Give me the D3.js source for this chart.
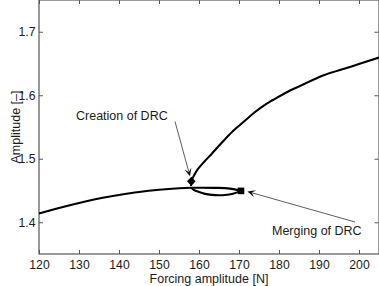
<!DOCTYPE html>
<meta charset="utf-8">
<script src="https://d3js.org/d3.v7.min.js"></script>
<style>
  body { margin: 0; background: #fff; }
  text { font-family: "Liberation Sans", Arial, Helvetica, sans-serif; font-size: 12.5px; fill: #1a1a1a; }
  .tick text { font-size: 12.2px; }
</style>
<div id="chart"></div>
<script>
// lower branch (main curve + upper edge of the loop)
var lowerF = [120, 125, 130, 135, 140, 145, 150, 155, 158, 160.25, 164, 167.75, 170.5];
var lowerA = [1.4138, 1.4224, 1.4303, 1.4374, 1.4429, 1.4476, 1.4511, 1.4535, 1.4543, 1.4544, 1.4542, 1.4530, 1.4494];

// lower edge of the DRC loop
var loopF = [158.0, 158.6, 159.5, 161.5, 164, 166.5, 168.5, 170.5];
var loopA = [1.4543, 1.4515, 1.4488, 1.4447, 1.4427, 1.4428, 1.4448, 1.4494];

// upper branch, starting at the creation point
var upperF = [158.02, 158.08, 158.75, 159.75, 161.25, 163.25, 165.5, 168.5, 171.25, 174.0, 176.75, 178.5, 182.75, 185.25, 191.0, 197.75, 205];
var upperA = [1.457, 1.4645, 1.4736, 1.4839, 1.4949, 1.5083, 1.5240, 1.5437, 1.5587, 1.5736, 1.5862, 1.5925, 1.6075, 1.6146, 1.6311, 1.6445, 1.6594];

// special points
var creation = [158.08, 1.4645];
var merging = [170.5, 1.4494];

var xTicks = [120, 130, 140, 150, 160, 170, 180, 190, 200];
var yTicks = [1.4, 1.5, 1.6, 1.7];

var W = 379, H = 286;
var margin = {top: 0, right: 0, bottom: 32, left: 39};

var x = d3.scaleLinear().domain([120, 205]).range([margin.left, W - margin.right]);
var y = d3.scaleLinear().domain([1.35, 1.75]).range([H - margin.bottom, margin.top]);

var svg = d3.select("#chart").append("svg")
  .attr("width", W)
  .attr("height", H);

// box + inward ticks
var axisCol = "#555";
svg.append("rect")
  .attr("x", x(120)).attr("y", y(1.75))
  .attr("width", x(205) - x(120)).attr("height", y(1.35) - y(1.75))
  .attr("fill", "none").attr("stroke", axisCol).attr("stroke-width", 1.2);

var gx = svg.append("g")
  .attr("transform", "translate(0," + y(1.35) + ")")
  .call(d3.axisBottom(x).tickValues(xTicks).tickSizeInner(-4).tickSizeOuter(0).tickPadding(6));
var gxTop = svg.append("g")
  .attr("transform", "translate(0," + y(1.75) + ")")
  .call(d3.axisTop(x).tickValues(xTicks).tickSizeInner(-4).tickSizeOuter(0).tickFormat(""));
var gy = svg.append("g")
  .attr("transform", "translate(" + x(120) + ",0)")
  .call(d3.axisLeft(y).tickValues(yTicks).tickSizeInner(-4).tickSizeOuter(0).tickPadding(3.5).tickFormat(d3.format(".1f")));
var gyR = svg.append("g")
  .attr("transform", "translate(" + (x(205) - 0.5) + ",0)")
  .call(d3.axisRight(y).tickValues(yTicks).tickSizeInner(-4).tickSizeOuter(0).tickFormat(""));

[gx, gxTop, gy, gyR].forEach(function(g) {
  g.select(".domain").remove();
  g.selectAll(".tick line").attr("stroke", axisCol);
  g.selectAll(".tick text").attr("font-size", null).attr("font-family", null);
});

// axis titles
svg.append("text")
  .attr("x", (x(120) + x(205)) / 2)
  .attr("y", 283)
  .attr("text-anchor", "middle")
  .text("Forcing amplitude [N]");

svg.append("text")
  .attr("transform", "translate(19.5," + ((y(1.35) + y(1.75)) / 2) + ") rotate(-90)")
  .attr("text-anchor", "middle")
  .text("Amplitude [\u2013]");

// curves
var line = d3.line()
  .x(function(d) { return x(d[0]); })
  .y(function(d) { return y(d[1]); })
  .curve(d3.curveCatmullRom);

function zip(a, b) { return a.map(function(v, i) { return [v, b[i]]; }); }

[zip(lowerF, lowerA), zip(loopF, loopA), zip(upperF, upperA)].forEach(function(pts) {
  svg.append("path")
    .attr("d", line(pts))
    .attr("fill", "none")
    .attr("stroke", "#000")
    .attr("stroke-width", 2.1)
    .attr("stroke-linejoin", "round");
});

// markers
var cx = x(creation[0]), cy = y(creation[1]);
svg.append("path")
  .attr("d", "M" + cx + "," + (cy - 4.6) + "L" + (cx + 4.3) + "," + cy + "L" + cx + "," + (cy + 4.6) + "L" + (cx - 4.3) + "," + cy + "Z")
  .attr("fill", "#000");
svg.append("rect")
  .attr("x", x(merging[0]) - 3.3).attr("y", y(merging[1]) - 3.3)
  .attr("width", 6.6).attr("height", 6.6)
  .attr("fill", "#000");

// annotations with arrows
function arrow(f1, a1, f2, a2) {
  var x1 = x(f1), y1 = y(a1), x2 = x(f2), y2 = y(a2);
  var dx = x2 - x1, dy = y2 - y1, len = Math.sqrt(dx * dx + dy * dy);
  var ux = dx / len, uy = dy / len, nx = -uy, ny = ux;
  var L = 8, Wd = 3.6;
  svg.append("line")
    .attr("x1", x1).attr("y1", y1)
    .attr("x2", x2 - ux * L * 0.6).attr("y2", y2 - uy * L * 0.6)
    .attr("stroke", "#333").attr("stroke-width", 0.8);
  var p = [
    [x2, y2],
    [x2 - ux * L + nx * Wd, y2 - uy * L + ny * Wd],
    [x2 - ux * L * 0.55, y2 - uy * L * 0.55],
    [x2 - ux * L - nx * Wd, y2 - uy * L - ny * Wd]
  ];
  svg.append("path")
    .attr("d", "M" + p.map(function(q) { return q.join(","); }).join("L") + "Z")
    .attr("fill", "#111");
}

arrow(154.0, 1.5587, 157.75, 1.4725);
arrow(199.0, 1.4004, 172.1, 1.4484);

svg.append("text")
  .attr("x", x(129.25)).attr("y", y(1.5618))
  .text("Creation of DRC");
svg.append("text")
  .attr("x", x(178.25)).attr("y", y(1.3807))
  .text("Merging of DRC");
</script>
